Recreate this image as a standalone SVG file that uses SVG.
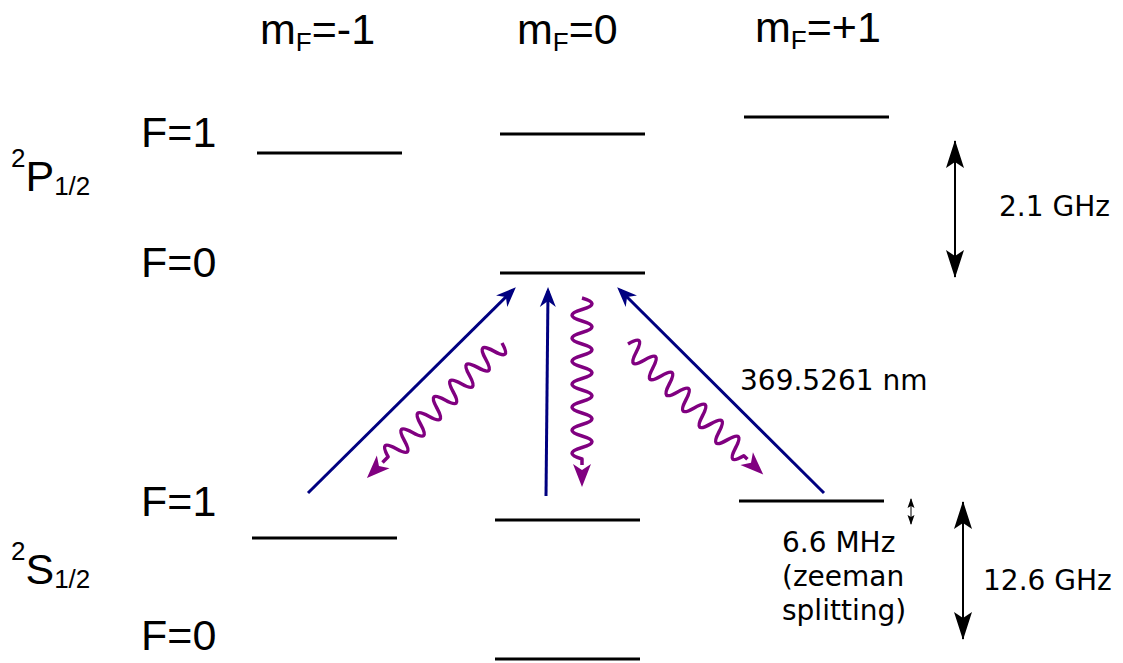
<svg xmlns="http://www.w3.org/2000/svg" width="1123" height="663" viewBox="0 0 1123 663">
<style>
.lvl{stroke:#000;stroke-width:3;fill:none}
.big{font-family:"Liberation Sans",Arial,sans-serif;font-size:43px;fill:#000}
.sm{font-family:"Liberation Sans",Arial,sans-serif;font-size:26px}
.lab{font-family:"DejaVu Sans",sans-serif;font-size:28px;fill:#000}
.blue{stroke:#000080;stroke-width:3;fill:none}
.wave{stroke:#800080;stroke-width:3.5;fill:none;stroke-linejoin:round}
.dbl{stroke:#000;stroke-width:2;fill:none}
</style>
<defs>
<marker id="aNavy" markerUnits="userSpaceOnUse" orient="auto" overflow="visible" markerWidth="1" markerHeight="1" refX="0" refY="0">
<path d="M4,0 L-16,-8 L-10,0 L-16,8 Z" fill="#000080"/>
</marker>
<marker id="aBlack" markerUnits="userSpaceOnUse" orient="auto-start-reverse" overflow="visible" markerWidth="1" markerHeight="1" refX="0" refY="0">
<path d="M1,0 L-27,-9 L-21,0 L-27,9 Z" fill="#000"/>
</marker>
<marker id="aTiny" markerUnits="userSpaceOnUse" orient="auto-start-reverse" overflow="visible" markerWidth="1" markerHeight="1" refX="0" refY="0">
<path d="M1,0 L-9,-3.5 L-7,0 L-9,3.5 Z" fill="#000"/>
</marker>
</defs>

<g id="headers">
<text class="big" x="260" y="44">m<tspan class="sm" dy="7">F</tspan><tspan dy="-7">=-1</tspan></text>
<text class="big" x="517" y="44">m<tspan class="sm" dy="7">F</tspan><tspan dy="-7">=0</tspan></text>
<text class="big" x="755" y="42">m<tspan class="sm" dy="7">F</tspan><tspan dy="-7">=+1</tspan></text>
</g>

<g id="term-P">
<text class="big" x="11" y="191"><tspan class="sm" dy="-24">2</tspan><tspan dy="24">P</tspan><tspan class="sm" dy="4">1/2</tspan></text>
</g>
<g id="term-S">
<text class="big" x="11" y="584"><tspan class="sm" dy="-24">2</tspan><tspan dy="24">S</tspan><tspan class="sm" dy="4">1/2</tspan></text>
</g>

<g id="F-labels">
<text class="big" x="141" y="147">F=1</text>
<text class="big" x="141" y="277">F=0</text>
<text class="big" x="141" y="516">F=1</text>
<text class="big" x="141" y="650">F=0</text>
</g>

<g id="P-F1-m-1"><line class="lvl" x1="257" y1="153" x2="402" y2="153"/></g>
<g id="P-F1-m0"><line class="lvl" x1="500" y1="134" x2="645" y2="134"/></g>
<g id="P-F1-m1"><line class="lvl" x1="744" y1="117" x2="889" y2="117"/></g>
<g id="P-F0-m0"><line class="lvl" x1="500" y1="273" x2="645" y2="273"/></g>
<g id="S-F1-m-1"><line class="lvl" x1="252" y1="538" x2="397" y2="538"/></g>
<g id="S-F1-m0"><line class="lvl" x1="495" y1="520" x2="640" y2="520"/></g>
<g id="S-F1-m1"><line class="lvl" x1="739" y1="501" x2="884" y2="501"/></g>
<g id="S-F0-m0"><line class="lvl" x1="495" y1="659" x2="640" y2="659"/></g>

<g id="connectors">
<line class="blue" x1="308" y1="493" x2="513" y2="290" marker-end="url(#aNavy)"/>
<line class="blue" x1="546" y1="496" x2="548" y2="291" marker-end="url(#aNavy)"/>
<line class="blue" x1="824" y1="493" x2="620" y2="290" marker-end="url(#aNavy)"/>

<g transform="translate(502,343) rotate(135)">
<path class="wave" d="M0,0 q5.75,-20 11.5,0 t11.5,0 t11.5,0 t11.5,0 t11.5,0 t11.5,0 t11.5,0 t11.5,0 t11.5,0 t11.5,0 t11.5,0 t11.5,0 t11.5,0 t11.5,0 l8,0"/>
<path d="M191,0 L168,-9 L174,0 L168,9 Z" fill="#800080"/>
</g>
<g transform="translate(582,298) rotate(90)">
<path class="wave" d="M0,0 q5.75,-20 11.5,0 t11.5,0 t11.5,0 t11.5,0 t11.5,0 t11.5,0 t11.5,0 t11.5,0 t11.5,0 t11.5,0 t11.5,0 t11.5,0 t11.5,0 t11.5,0 l6,0"/>
<path d="M189,0 L166,-9 L172,0 L166,9 Z" fill="#800080"/>
</g>
<g transform="translate(628,344) rotate(44)">
<path class="wave" d="M0,0 q5.75,-20 11.5,0 t11.5,0 t11.5,0 t11.5,0 t11.5,0 t11.5,0 t11.5,0 t11.5,0 t11.5,0 t11.5,0 t11.5,0 t11.5,0 t11.5,0 t11.5,0 l5,0"/>
<path d="M188,0 L165,-9 L171,0 L165,9 Z" fill="#800080"/>
</g>

<line class="dbl" x1="955" y1="141" x2="955" y2="277" marker-start="url(#aBlack)" marker-end="url(#aBlack)"/>
<line class="dbl" x1="963" y1="502" x2="963" y2="639" marker-start="url(#aBlack)" marker-end="url(#aBlack)"/>
<line style="stroke:#000;stroke-width:1;fill:none" x1="911" y1="499" x2="911" y2="524" marker-start="url(#aTiny)" marker-end="url(#aTiny)"/>
</g>

<g id="labels">
<text class="lab" x="999" y="216">2.1 GHz</text>
<text class="lab" x="740" y="390">369.5261 nm</text>
<text class="lab" x="782" y="552">6.6 MHz</text>
<text class="lab" x="782" y="586">(zeeman</text>
<text class="lab" x="782" y="620">splitting)</text>
<text class="lab" x="983" y="590">12.6 GHz</text>
</g>
</svg>
